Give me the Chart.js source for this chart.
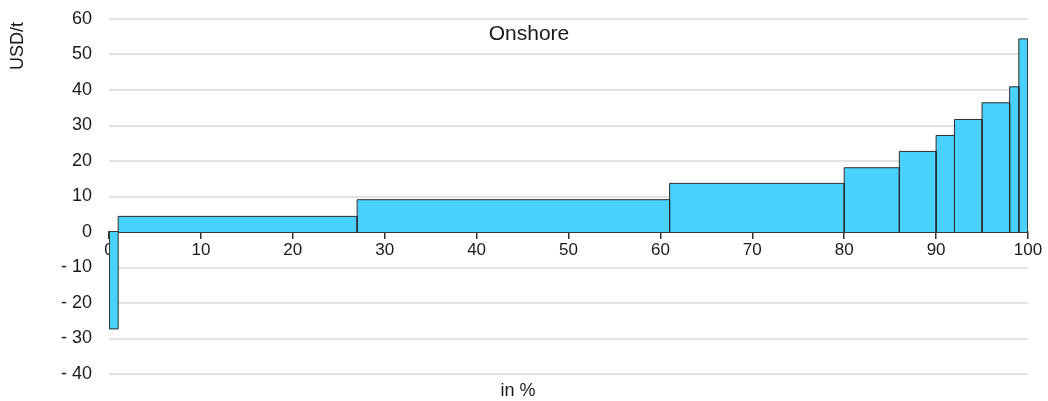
<!DOCTYPE html>
<html>
<head>
<meta charset="utf-8">
<script src="https://cdn.jsdelivr.net/npm/chart.js@4/dist/chart.umd.min.js"></script>
<style>
    html, body { margin: 0; padding: 0; background: #fff; }
    #wrap { width: 1048px; height: 401px; position: relative; }
</style>
</head>
<body>
<div id="wrap"><canvas id="costChart"></canvas></div>
<script>
// cumulative share (in %) where each block starts / ends, and its cost in USD/t
const blockStart = [0, 1, 27, 61, 80, 86, 90, 92, 95, 98, 99];
const blockEnd   = [1, 27, 61, 80, 86, 90, 92, 95, 98, 99, 100];
const blockCost  = [-27.3, 4.4, 9.1, 13.7, 18.1, 22.7, 27.2, 31.7, 36.4, 40.9, 54.4];

const xTicks = [0, 10, 20, 30, 40, 50, 60, 70, 80, 90, 100];
const yTicks = [-40, -30, -20, -10, 0, 10, 20, 30, 40, 50, 60];

const chartTitle = "Onshore";
const xTitle = "in %";
const yTitle = "USD/t";

const FONT = "'Liberation Sans', Arial, sans-serif";

// one closed step per block, filled down to zero
const datasets = blockCost.map((v, i) => ({
    data: [
        { x: blockStart[i], y: 0 },
        { x: blockStart[i], y: v },
        { x: blockEnd[i], y: v },
        { x: blockEnd[i], y: 0 }
    ],
    showLine: true,
    fill: 'origin',
    backgroundColor: '#49d2ff',
    borderColor: '#2b2b2b',
    borderWidth: 1,
    pointRadius: 0,
    tension: 0
}));

// labels that sit outside the axes
const textPlugin = {
    id: 'texts',
    afterDraw(chart) {
        const ctx = chart.ctx;
        ctx.save();
        ctx.fillStyle = '#1a1a1a';
        ctx.textAlign = 'center';
        ctx.textBaseline = 'middle';

        ctx.font = "21px " + FONT;
        ctx.fillText(chartTitle, 529, 34);

        ctx.font = "18px " + FONT;
        ctx.fillText(xTitle, 518, 391);

        ctx.translate(18, 46);
        ctx.rotate(-Math.PI / 2);
        ctx.fillText(yTitle, 0, 0);
        ctx.restore();
    }
};

new Chart(document.getElementById('costChart'), {
    type: 'scatter',
    data: { datasets },
    plugins: [textPlugin],
    options: {
        responsive: true,
        maintainAspectRatio: false,
        animation: false,
        layout: { padding: { top: 19, bottom: 27, left: 0, right: 20 } },
        plugins: {
            legend: { display: false },
            tooltip: { enabled: false },
            filler: { propagate: false }
        },
        scales: {
            x: {
                type: 'linear',
                position: { y: 0 },
                z: 1,
                min: 0,
                max: 100,
                afterBuildTicks: (s) => { s.ticks = xTicks.map(v => ({ value: v })); },
                // axis sits at zero, so it should not push the chart area down
                afterFit: (s) => { s.paddingTop = 0; s.paddingBottom = 0; },
                ticks: {
                    color: '#1a1a1a',
                    font: { family: FONT, size: 17 },
                    padding: 2,
                    maxRotation: 0
                },
                grid: {
                    drawOnChartArea: false,
                    drawTicks: true,
                    tickLength: 6,
                    color: '#333',
                    lineWidth: 1.5
                },
                border: { display: true, color: '#3a3a3a', width: 2 }
            },
            y: {
                min: -40,
                max: 60,
                afterBuildTicks: (s) => { s.ticks = yTicks.map(v => ({ value: v })); },
                afterFit: (s) => { s.width = 109; s.paddingTop = 0; s.paddingBottom = 0; },
                ticks: {
                    color: '#1a1a1a',
                    font: { family: FONT, size: 18 },
                    padding: 17,
                    callback: (v) => v < 0 ? '- ' + Math.abs(v) : String(v)
                },
                grid: {
                    drawTicks: false,
                    color: '#e3e3e3',
                    lineWidth: 2
                },
                border: { display: false }
            }
        }
    }
});
</script>
</body>
</html>
